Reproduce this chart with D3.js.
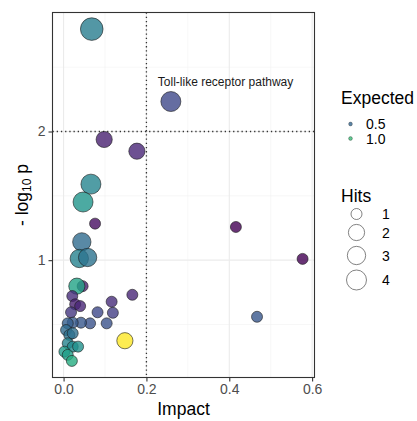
<!DOCTYPE html>
<html>
<head>
<meta charset="utf-8">
<script src="https://cdn.jsdelivr.net/npm/d3@7"></script>
<style>
  body { margin: 0; background: #fff; }
  text { font-family: "Liberation Sans", Arial, sans-serif; }
</style>
</head>
<body>
<div id="chart"></div>
<script>
// pathway impact vs -log10 p, one entry per pathway
var impact   = [0.068, 0.259, 0.098, 0.177, 0.066, 0.047, 0.076, 0.044, 0.038, 0.058,
                0.046, 0.032, 0.021, 0.028, 0.040, 0.018, 0.082, 0.116, 0.119, 0.166,
                0.064, 0.104, 0.042, 0.022, 0.010, 0.006, 0.014, 0.022, 0.010, 0.022,
                0.035, 0.002, 0.010, 0.020, 0.148, 0.416, 0.577, 0.467];
var negLogP  = [2.796, 2.233, 1.938, 1.847, 1.591, 1.452, 1.284, 1.142, 1.013, 1.021,
                0.798, 0.798, 0.721, 0.657, 0.643, 0.595, 0.595, 0.677, 0.591, 0.731,
                0.509, 0.509, 0.514, 0.514, 0.509, 0.457, 0.419, 0.432, 0.354, 0.328,
                0.328, 0.289, 0.264, 0.217, 0.374, 1.258, 1.010, 0.560];
var hits     = [6, 4, 2, 2, 4, 4, 1, 3, 3, 3,
                1, 2, 1, 1, 1, 1, 1, 1, 1, 1,
                1, 1, 1, 1, 1, 1, 1, 1, 1, 1,
                1, 1, 1, 1, 2, 1, 1, 1];
var expected = [0.638, 0.358, 0.175, 0.200, 0.680, 0.778, 0.100, 0.540, 0.666, 0.582,
                0.175, 0.862, 0.228, 0.175, 0.200, 0.270, 0.358, 0.228, 0.302, 0.200,
                0.400, 0.400, 0.428, 0.442, 0.470, 0.540, 0.582, 0.554, 0.680, 0.722,
                0.750, 0.820, 0.834, 0.918, 1.450, 0.050, 0.050, 0.428];
var labelIndex = 1;
var labelText = "Toll-like receptor pathway";

var xTicks = [0.0, 0.2, 0.4, 0.6];
var xMinor = [0.1, 0.3, 0.5];
var yTicks = [1, 2];
var yMinor = [0.5, 1.5, 2.5];
var expectedBreaks = [0.5, 1.0];
var hitsBreaks = [1, 2, 3, 4];
var impactCut = 0.2;
var pCut = 2;

var W = 417, H = 421;
var margin = {left: 52.5, right: 102.5, top: 12.5, bottom: 43.5};

var data = impact.map(function(d, i) {
    return {x: d, y: negLogP[i], hits: hits[i], expected: expected[i]};
});

var svg = d3.select("#chart").append("svg")
    .attr("width", W)
    .attr("height", H);

// ggplot style 5% expansion
function expand(ext) {
    var pad = (ext[1] - ext[0]) * 0.05;
    return [ext[0] - pad, ext[1] + pad];
}

var x = d3.scaleLinear()
    .domain(expand(d3.extent(impact)))
    .range([margin.left, W - margin.right]);
var y = d3.scaleLinear()
    .domain(expand(d3.extent(negLogP)))
    .range([H - margin.bottom, margin.top]);

var color = d3.scaleSequential(d3.interpolateViridis)
    .domain(d3.extent(expected));

var hitExt = d3.extent(hits);
var rScale = d3.scaleLinear().domain([0, 1]).range([5.5, 11.3]);
function radius(h) { return rScale(Math.sqrt((h - hitExt[0]) / (hitExt[1] - hitExt[0]))); }

var g = svg.append("g");

// grid
g.selectAll(".minx").data(xMinor).enter().append("line")
    .attr("x1", function(d) { return x(d); }).attr("x2", function(d) { return x(d); })
    .attr("y1", margin.top).attr("y2", H - margin.bottom)
    .attr("stroke", "#f2f2f2").attr("stroke-width", 0.6);
g.selectAll(".miny").data(yMinor).enter().append("line")
    .attr("y1", function(d) { return y(d); }).attr("y2", function(d) { return y(d); })
    .attr("x1", margin.left).attr("x2", W - margin.right)
    .attr("stroke", "#f2f2f2").attr("stroke-width", 0.6);
g.selectAll(".majx").data(xTicks).enter().append("line")
    .attr("x1", function(d) { return x(d); }).attr("x2", function(d) { return x(d); })
    .attr("y1", margin.top).attr("y2", H - margin.bottom)
    .attr("stroke", "#ebebeb").attr("stroke-width", 1.1);
g.selectAll(".majy").data(yTicks).enter().append("line")
    .attr("y1", function(d) { return y(d); }).attr("y2", function(d) { return y(d); })
    .attr("x1", margin.left).attr("x2", W - margin.right)
    .attr("stroke", "#ebebeb").attr("stroke-width", 1.1);

// cutoff lines
g.append("line")
    .attr("x1", x(impactCut)).attr("x2", x(impactCut))
    .attr("y1", margin.top).attr("y2", H - margin.bottom)
    .attr("stroke", "#333").attr("stroke-width", 1.3)
    .attr("stroke-dasharray", "1.3,2.9");
g.append("line")
    .attr("y1", y(pCut)).attr("y2", y(pCut))
    .attr("x1", margin.left).attr("x2", W - margin.right)
    .attr("stroke", "#333").attr("stroke-width", 1.3)
    .attr("stroke-dasharray", "1.3,2.9");

// points
g.selectAll("circle.pt").data(data).enter().append("circle")
    .attr("class", "pt")
    .attr("cx", function(d) { return x(d.x); })
    .attr("cy", function(d) { return y(d.y); })
    .attr("r", function(d) { return radius(d.hits); })
    .attr("fill", function(d) { return color(d.expected); })
    .attr("fill-opacity", 0.8)
    .attr("stroke", "#1a1a1a")
    .attr("stroke-width", 0.6);

// label for toll-like pathway
var lp = data[labelIndex];
g.append("text")
    .attr("x", x(lp.x) - 13)
    .attr("y", y(lp.y) - 16)
    .attr("font-size", 12)
    .attr("fill", "#1a1a1a")
    .text(labelText);

// panel border
g.append("rect")
    .attr("x", margin.left).attr("y", margin.top)
    .attr("width", W - margin.left - margin.right)
    .attr("height", H - margin.top - margin.bottom)
    .attr("fill", "none").attr("stroke", "#333").attr("stroke-width", 1.1);

// axes
var xAxis = svg.append("g")
    .attr("transform", "translate(0," + (H - margin.bottom) + ")")
    .call(d3.axisBottom(x).tickValues(xTicks).tickFormat(d3.format(".1f")).tickSize(4).tickPadding(3));
var yAxis = svg.append("g")
    .attr("transform", "translate(" + margin.left + ",0)")
    .call(d3.axisLeft(y).tickValues(yTicks).tickFormat(d3.format("d")).tickSize(4).tickPadding(3));
[xAxis, yAxis].forEach(function(a) {
    a.select(".domain").remove();
    a.selectAll(".tick line").attr("stroke", "#333").attr("stroke-width", 1.1);
    a.selectAll(".tick text").attr("fill", "#4d4d4d").attr("font-size", 14)
        .attr("font-family", "Liberation Sans, Arial, sans-serif");
});

// axis titles
svg.append("text")
    .attr("x", (margin.left + W - margin.right) / 2)
    .attr("y", 415)
    .attr("text-anchor", "middle")
    .attr("font-size", 17.5)
    .text("Impact");

var yt = svg.append("text")
    .attr("transform", "translate(28," + ((margin.top + H - margin.bottom) / 2) + ") rotate(-90)")
    .attr("text-anchor", "middle")
    .attr("font-size", 17.5);
yt.append("tspan").text("- log");
yt.append("tspan").attr("font-size", 12).attr("dy", 3).text("10");
yt.append("tspan").attr("dy", -3).text(" p");

// legend: Expected
var leg = svg.append("g");
leg.append("text").attr("x", 341).attr("y", 104).attr("font-size", 17.5).text("Expected");
var eRow = leg.selectAll(".erow").data(expectedBreaks).enter().append("g")
    .attr("transform", function(d, i) { return "translate(0," + (124 + i * 14.5) + ")"; });
eRow.append("circle").attr("cx", 350.5).attr("cy", 0).attr("r", 1.9)
    .attr("fill", function(d) { return color(d); }).attr("fill-opacity", 0.8)
    .attr("stroke", "#1a1a1a").attr("stroke-width", 0.3);
eRow.append("text").attr("x", 366).attr("y", 5).attr("font-size", 14)
    .text(function(d) { return d3.format(".1f")(d); });

// legend: Hits
leg.append("text").attr("x", 341).attr("y", 202).attr("font-size", 17.5).text("Hits");
var hy = [214, 232.5, 255.5, 280];
var hRow = leg.selectAll(".hrow").data(hitsBreaks).enter().append("g")
    .attr("transform", function(d, i) { return "translate(0," + hy[i] + ")"; });
hRow.append("circle").attr("cx", 356.5).attr("cy", 0)
    .attr("r", function(d) { return radius(d); })
    .attr("fill", "#fff").attr("stroke", "#4d4d4d").attr("stroke-width", 0.7);
hRow.append("text").attr("x", 382).attr("y", 5).attr("font-size", 14)
    .text(function(d) { return d; });
</script>
</body>
</html>
